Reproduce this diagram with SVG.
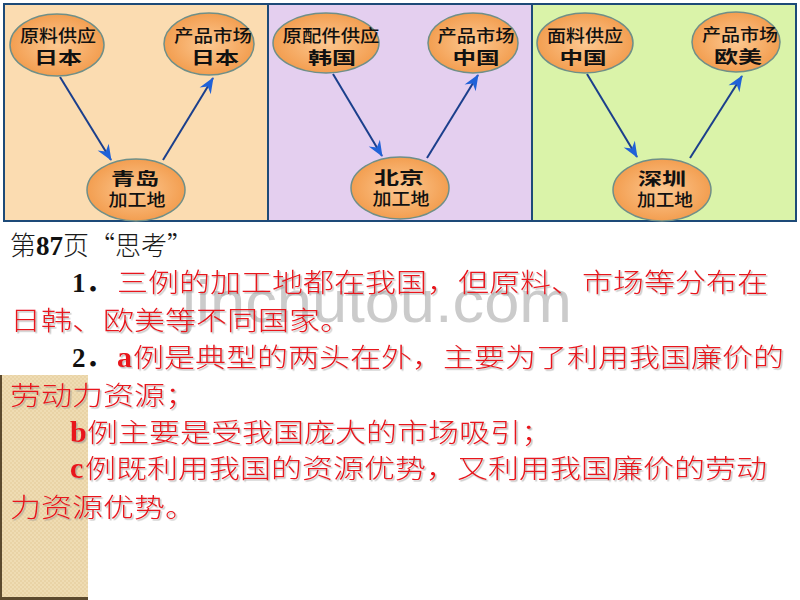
<svg xmlns="http://www.w3.org/2000/svg" width="800" height="600" viewBox="0 0 800 600">
<defs>
<style>
.panel{stroke:#1d4a78;stroke-width:2}
.node ellipse{fill:url(#og);stroke:#6f8f88;stroke-width:1.5}
.nt{font-family:"Noto Sans CJK SC","Noto Sans",sans-serif;font-size:17px;fill:#111;text-anchor:middle;font-weight:500}
.nt2{font-family:"Noto Sans CJK SC","Noto Sans",sans-serif;font-size:17px;fill:#111;text-anchor:middle;font-weight:700}
.conn line{stroke:#1b3f8c;stroke-width:2;marker-end:url(#ah)}
.bk{font-family:"Noto Sans CJK SC",sans-serif;font-size:26px;fill:#1a1a1a;font-weight:300}
.rd{font-family:"Noto Sans CJK SC",sans-serif;font-size:26px;fill:#e8141c;font-weight:300;filter:url(#sh)}
.num{font-family:"Liberation Serif","Noto Sans CJK SC",serif;font-weight:bold;font-size:27px;fill:#111}
.ltr{font-family:"Liberation Serif",serif;font-weight:bold;font-size:30px;fill:#e8141c;filter:url(#sh)}
.wm{font-family:"Liberation Sans",sans-serif;font-size:60px;fill:#cbcbcb}
</style>
<radialGradient id="og" cx="50%" cy="50%" r="55%">
<stop offset="0" stop-color="#fcc891"/>
<stop offset="1" stop-color="#f29a4a"/>
</radialGradient>
<marker id="ah" markerWidth="18" markerHeight="14" viewBox="-16 -7 18 14" refX="0" refY="0" orient="auto" markerUnits="userSpaceOnUse">
<path d="M1,0 L-15,-6.5 L-10,0 L-15,6.5 Z" fill="#2062d8"/>
</marker>
<filter id="sh" x="-5%" y="-20%" width="110%" height="150%">
<feDropShadow dx="1.5" dy="1.5" stdDeviation="0.6" flood-color="#8a8a8a" flood-opacity="0.55"/>
</filter>
<pattern id="chk" width="4" height="4" patternUnits="userSpaceOnUse">
<rect width="4" height="4" fill="#efdcb3"/>
<rect width="2" height="2" fill="#e9d3a6"/>
<rect x="2" y="2" width="2" height="2" fill="#e9d3a6"/>
</pattern>
</defs>
<rect width="800" height="600" fill="#ffffff"/>
<g id="panels">
<rect class="panel" x="4" y="4" width="264" height="217" fill="#fbdcb1"/>
<rect class="panel" x="268" y="4" width="264" height="217" fill="#e4cfef"/>
<rect class="panel" x="532" y="4" width="264" height="217" fill="#daf3a9"/>
</g>
<g id="connectors" class="conn">
<line x1="60" y1="77" x2="111" y2="160"/>
<line x1="163" y1="160" x2="213" y2="78"/>
<line x1="333" y1="74" x2="382" y2="156"/>
<line x1="427" y1="158" x2="478" y2="75"/>
<line x1="587" y1="74" x2="637" y2="157"/>
<line x1="690" y1="158" x2="742" y2="76"/>
</g>
<g id="n1a" class="node"><ellipse cx="57" cy="45" rx="47" ry="31"/><text class="nt" x="58" y="42" textLength="76" lengthAdjust="spacingAndGlyphs">原料供应</text><text class="nt2" x="58" y="64" textLength="48" lengthAdjust="spacingAndGlyphs">日本</text></g>
<g id="n1b" class="node"><ellipse cx="209" cy="44" rx="45" ry="31"/><text class="nt" x="213" y="42" textLength="78" lengthAdjust="spacingAndGlyphs">产品市场</text><text class="nt2" x="215" y="64" textLength="48" lengthAdjust="spacingAndGlyphs">日本</text></g>
<g id="n1c" class="node"><ellipse cx="136" cy="190" rx="49" ry="31"/><text class="nt2" x="135" y="185" textLength="48" lengthAdjust="spacingAndGlyphs">青岛</text><text class="nt" x="137" y="206" textLength="57" lengthAdjust="spacingAndGlyphs">加工地</text></g>
<g id="n2a" class="node"><ellipse cx="326" cy="43" rx="53" ry="30"/><text class="nt" x="331" y="42" textLength="97" lengthAdjust="spacingAndGlyphs">原配件供应</text><text class="nt2" x="332" y="64" textLength="48" lengthAdjust="spacingAndGlyphs">韩国</text></g>
<g id="n2b" class="node"><ellipse cx="473" cy="43" rx="45" ry="30"/><text class="nt" x="476" y="42" textLength="77" lengthAdjust="spacingAndGlyphs">产品市场</text><text class="nt2" x="476" y="64" textLength="47" lengthAdjust="spacingAndGlyphs">中国</text></g>
<g id="n2c" class="node"><ellipse cx="400" cy="188" rx="49" ry="31"/><text class="nt2" x="399" y="184" textLength="50" lengthAdjust="spacingAndGlyphs">北京</text><text class="nt" x="401" y="205" textLength="57" lengthAdjust="spacingAndGlyphs">加工地</text></g>
<g id="n3a" class="node"><ellipse cx="585" cy="43" rx="48" ry="30"/><text class="nt" x="585" y="42" textLength="76" lengthAdjust="spacingAndGlyphs">面料供应</text><text class="nt2" x="583" y="64" textLength="47" lengthAdjust="spacingAndGlyphs">中国</text></g>
<g id="n3b" class="node"><ellipse cx="736" cy="42" rx="44" ry="30"/><text class="nt" x="740" y="41" textLength="76" lengthAdjust="spacingAndGlyphs">产品市场</text><text class="nt2" x="738" y="63" textLength="48" lengthAdjust="spacingAndGlyphs">欧美</text></g>
<g id="n3c" class="node"><ellipse cx="662" cy="190" rx="49" ry="31"/><text class="nt2" x="662" y="185" textLength="48" lengthAdjust="spacingAndGlyphs">深圳</text><text class="nt" x="665" y="206" textLength="56" lengthAdjust="spacingAndGlyphs">加工地</text></g>
<g id="sidebar">
<rect x="0" y="375" width="88" height="225" fill="url(#chk)"/>
<rect x="0" y="375" width="2" height="225" fill="#5c4a2e"/>
<rect x="0" y="597" width="88" height="3" fill="#5c4a2e"/>
</g>
<text class="wm" x="182" y="322" textLength="390" lengthAdjust="spacingAndGlyphs">jinchutou.com</text>
<g id="answer">
<text class="bk" x="10" y="255" textLength="183" lengthAdjust="spacingAndGlyphs">第<tspan class="num">87</tspan>页“思考”</text>
<text class="num" x="72" y="292">1．</text>
<text class="rd" x="117" y="292" textLength="651" lengthAdjust="spacingAndGlyphs">三例的加工地都在我国，但原料、市场等分布在</text>
<text class="rd" x="10" y="330" textLength="341" lengthAdjust="spacingAndGlyphs">日韩、欧美等不同国家。</text>
<text class="num" x="72" y="367">2．</text>
<text class="ltr" x="117" y="367">a</text>
<text class="rd" x="133" y="367" textLength="651" lengthAdjust="spacingAndGlyphs">例是典型的两头在外，主要为了利用我国廉价的</text>
<text class="rd" x="10" y="405" textLength="186" lengthAdjust="spacingAndGlyphs">劳动力资源；</text>
<text class="ltr" x="70" y="442">b</text>
<text class="rd" x="87" y="442" textLength="465" lengthAdjust="spacingAndGlyphs">例主要是受我国庞大的市场吸引；</text>
<text class="ltr" x="70" y="478">c</text>
<text class="rd" x="85" y="478" textLength="682" lengthAdjust="spacingAndGlyphs">例既利用我国的资源优势，又利用我国廉价的劳动</text>
<text class="rd" x="10" y="517" textLength="186" lengthAdjust="spacingAndGlyphs">力资源优势。</text>
</g>
</svg>
